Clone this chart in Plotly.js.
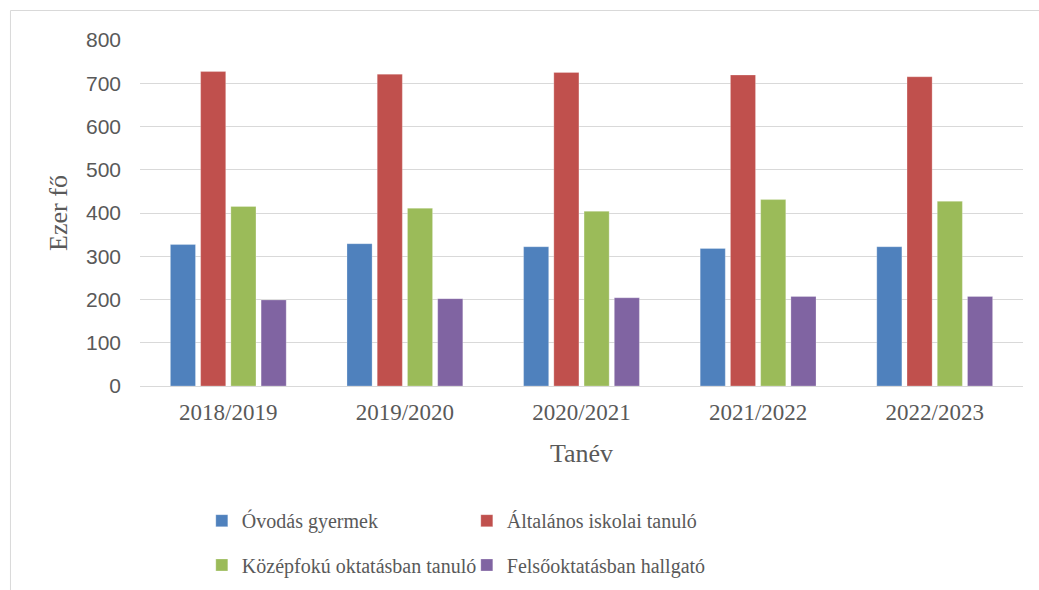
<!DOCTYPE html>
<html>
<head>
<meta charset="utf-8">
<script src="https://cdn.plot.ly/plotly-3.0.1.min.js"></script>
<style>html,body{margin:0;padding:0;background:#fff;}#chart{width:1039px;height:590px;}</style>
</head>
<body>
<div id="chart"></div>
<script>
const categories = ["2018/2019", "2019/2020", "2020/2021", "2021/2022", "2022/2023"];
const seriesNames = ["Óvodás gyermek", "Általános iskolai tanuló", "Középfokú oktatásban tanuló", "Felsőoktatásban hallgató"];
const ovodas = [327, 329, 322, 318, 322];
const altalanos = [727, 721, 725, 719, 715];
const kozepfoku = [415, 411, 404, 431, 427];
const felsooktatas = [199, 202, 204, 207, 207];
const colors = ["#4F81BD", "#C0504D", "#9BBB59", "#8064A2"];
const yTicks = [0, 100, 200, 300, 400, 500, 600, 700, 800];

const values = [ovodas, altalanos, kozepfoku, felsooktatas];
const legendIds = ["legend", "legend", "legend2", "legend2"];
const traces = values.map((v, i) => ({
  type: "bar",
  name: seriesNames[i],
  x: categories,
  y: v,
  marker: {color: colors[i], line: {color: "rgba(255,255,255,0.5)", width: 0.5}},
  legend: legendIds[i],
  hoverinfo: "x+y+name"
}));

const legendFont = {family: "Liberation Serif, Times New Roman, serif", size: 20, color: "#595959"};
const layout = {
  width: 1039,
  height: 590,
  margin: {l: 140, r: 16, t: 40, b: 204, autoexpand: false},
  paper_bgcolor: "#ffffff",
  plot_bgcolor: "#ffffff",
  barmode: "group",
  bargap: 0.315,
  bargroupgap: 0.17,
  showlegend: true,
  xaxis: {
    type: "category",
    automargin: false,
    tickfont: {family: "Liberation Serif, Times New Roman, serif", size: 23, color: "#595959"},
    ticks: "",
    ticklabelstandoff: 10,
    showline: false,
    title: {text: "Tanév", font: {family: "Liberation Serif, Times New Roman, serif", size: 26, color: "#595959"}, standoff: 19}
  },
  yaxis: {
    range: [0, 800],
    automargin: false,
    tickvals: yTicks,
    ticktext: yTicks.map(String),
    tickfont: {family: "Liberation Sans, Arial, sans-serif", size: 21, color: "#595959"},
    ticks: "",
    ticklabelstandoff: 18,
    showgrid: true,
    gridcolor: "#d9d9d9",
    gridwidth: 1,
    zeroline: true,
    zerolinecolor: "#d9d9d9",
    zerolinewidth: 1,
    showline: false,
    title: {text: "Ezer fő", font: {family: "Liberation Serif, Times New Roman, serif", size: 26, color: "#595959"}, standoff: 10}
  },
  legend: {
    orientation: "h", x: 0.070, xanchor: "left", yref: "container", y: 0.1175, yanchor: "middle",
    font: legendFont, entrywidth: 220, bgcolor: "rgba(0,0,0,0)", itemclick: false
  },
  legend2: {
    orientation: "h", x: 0.070, xanchor: "left", yref: "container", y: 0.0424, yanchor: "middle",
    font: legendFont, entrywidth: 220, bgcolor: "rgba(0,0,0,0)", itemclick: false
  },
  shapes: [{
    type: "rect", xref: "paper", yref: "paper",
    x0: -0.1467, x1: 1.03, y0: -0.65, y1: 1.0852,
    line: {color: "#d9d9d9", width: 1}, fillcolor: "rgba(0,0,0,0)", layer: "below"
  }]
};

Plotly.newPlot("chart", traces, layout, {displayModeBar: false, staticPlot: true});
</script>
</body>
</html>
